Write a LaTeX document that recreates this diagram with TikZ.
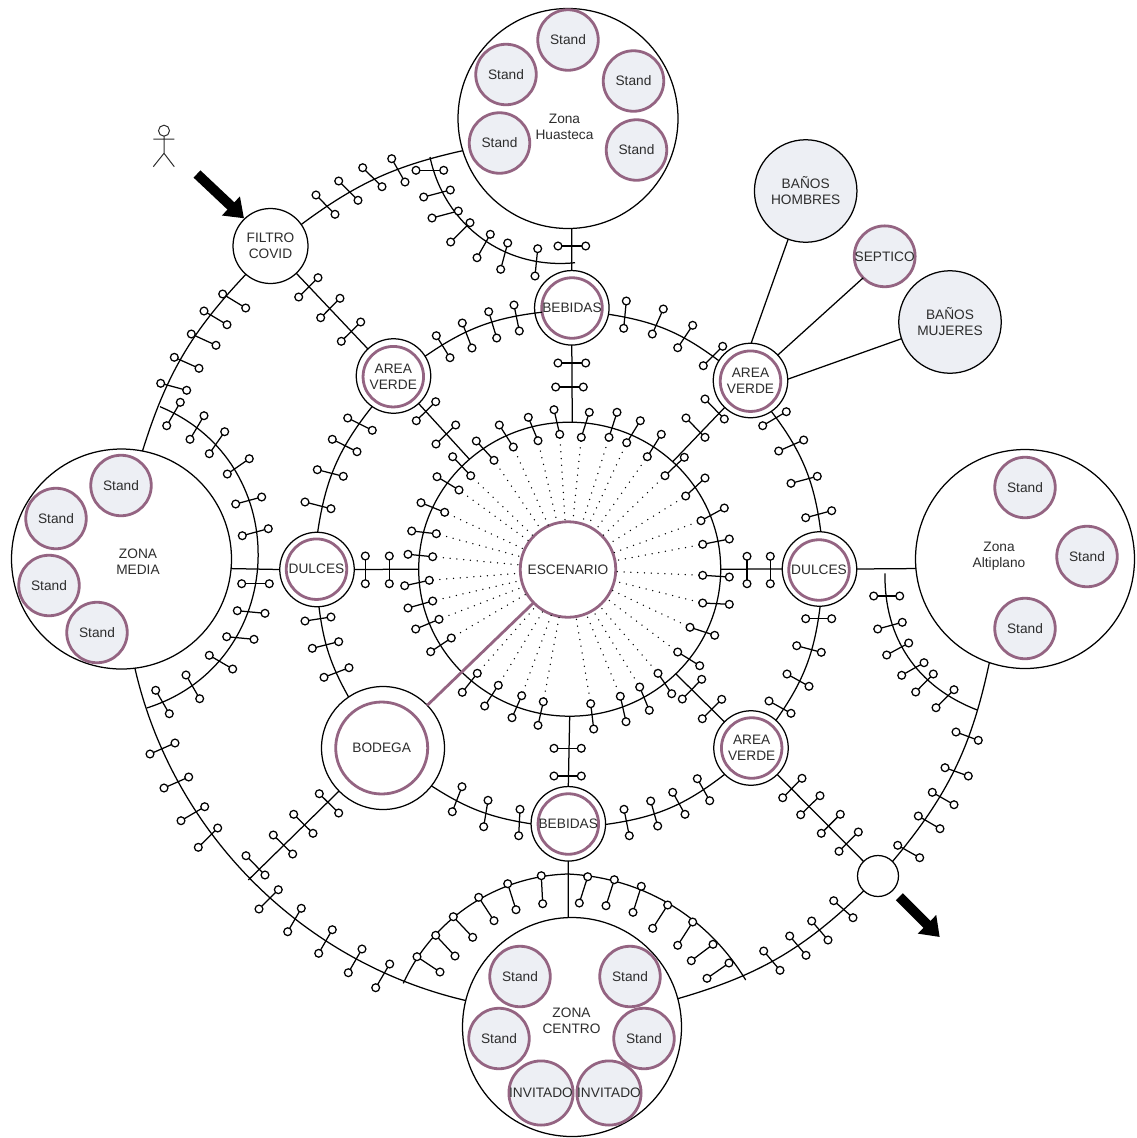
\documentclass[tikz,border=0pt]{standalone}
\usepackage{fontspec}
\setmainfont{Liberation Sans}
\usetikzlibrary{shapes.geometric, arrows.meta}
\definecolor{standpurple}{RGB}{148,100,130}
\definecolor{standfill}{RGB}{237,239,244}
\definecolor{labelgray}{RGB}{45,45,45}

\begin{document}
\begin{tikzpicture}[
    x=1pt, y=-1pt,
    every node/.style={inner sep=0pt, outer sep=0pt, font=\fontsize{13.7}{16}\selectfont, text=labelgray, align=center},
    wire/.style={draw=black, line width=1.25pt},
    hall/.style={circle, draw=black, line width=1.25pt, fill=white, minimum size=#1},
    booth/.style={circle, draw=standpurple, line width=2.8pt, minimum size=#1},
    stand/.style={circle, draw=standpurple, line width=2.8pt, fill=standfill, minimum size=60.5pt},
    service/.style={circle, draw=black, line width=1.25pt, fill=standfill, minimum size=102.5pt},
    stub/.style={circle, draw=black, line width=1.25pt, fill=white, minimum size=7.8pt},
    spots/.style={draw=black, line width=1.5pt, line cap=round, dash pattern=on 0pt off 6.8pt},
    bigarrow/.style={draw=black, line width=10pt, -{Triangle[length=18pt, width=25pt]}}
]
    \useasboundingbox (0,0) rectangle (1136,1138);

    % zones
    \node[hall=220pt] (huasteca) at (568,118.5) {};
    \node[hall=220pt] (media) at (121.5,559) {};
    \node[hall=219pt] (altiplano) at (1025,559) {};
    \node[hall=219pt] (centro) at (572,1027) {};

    \node (huastecatext) at (564.5,126.5) {Zona\\Huasteca};
    \node (mediatext) at (138,561.5) {ZONA\\MEDIA};
    \node (altiplanotext) at (999,556.5) {Zona\\Altiplano};
    \node (centrotext) at (571.5,1020.5) {ZONA\\CENTRO};

    \foreach \px/\py [count=\n] in {568/40, 506/74.5, 633.5/81, 499.5/143, 636.5/150,
        121/485.5, 56/518.5, 49/585.5, 97/632.5,
        1025/487.5, 1087/556.5, 1025/628.5,
        520/976.5, 630/976.5, 499/1038.5, 644/1038.5}
        \node[stand] (stand\n) at (\px,\py) {Stand};
    \node[stand] (guest1) at (541,1093) {INVITADO};
    \node[stand] (guest2) at (609,1093) {INVITADO};

    % centre
    \node[draw=black, line width=1.25pt, ellipse, minimum width=302pt, minimum height=294pt] (ring) at (569.7,569.2) {};
    \node[booth=95.5pt] (stage) at (568,569.5) {ESCENARIO};

    % halls on the middle ring
    \node[hall=75pt] (filtro) at (270.5,246) {FILTRO\\COVID};
    \node[hall=41pt] (exit) at (878,876) {};
    \node[hall=123pt] (bodega) at (383,748) {};
    \node[booth=92pt] (bodegain) at (381.7,748) {BODEGA};
    \foreach \nm/\px/\py/\ix/\iy/\tx in {areaA/393.5/376/393.3/376.7/{AREA\\VERDE},
        areaB/750.5/380.5/750.5/381.2/{AREA\\VERDE},
        areaC/751/748/751.7/748/{AREA\\VERDE},
        bebidasT/571.8/307.8/572/308/BEBIDAS,
        bebidasB/568.3/823.8/568.3/824/BEBIDAS,
        dulcesL/317/569.5/316.5/569.2/DULCES,
        dulcesR/819.5/569/819/570/DULCES}{
        \node[hall=74.5pt] (\nm) at (\px,\py) {};
        \node[booth=60.5pt] (\nm in) at (\ix,\iy) {\tx};
    }

    \node[service] (hombres) at (805.7,191) {BAÑOS\\HOMBRES};
    \node[service] (mujeres) at (950,322) {BAÑOS\\MUJERES};
    \node[circle, draw=standpurple, line width=2.8pt, fill=standfill, minimum size=53.5pt] (septico) at (884.7,256.3) {SEPTICO};

    \coordinate (bodegaend) at (248.3,880);
    \coordinate (huastecastart) at (430,157);
    \coordinate (huastecaend) at (575,262.7);
    \coordinate (mediastart) at (160,406.7);
    \coordinate (mediaend) at (146.7,708);
    \coordinate (centrostart) at (403.3,983.3);
    \coordinate (centrotop) at (568,874);
    \coordinate (centroend) at (745.7,980);
    \coordinate (altiplanostart) at (885,573.3);
    \coordinate (altiplanoend) at (977.3,710);

    % outer ring
    \draw[wire] (filtro.35) to[bend left=12] (huasteca.197);
    \draw[wire] (filtro.229) to[bend right=13] (media.79);
    \draw[wire] (media.277) to[bend right=32, looseness=0.92] (centro.166);
    \draw[wire] (centro.15) to[bend right=14] (exit.226);
    \draw[wire] (exit.45) to[bend right=14] (altiplano.251);

    % branches inside the outer ring
    \draw[wire] (huastecastart) to[bend right=42] (huastecaend);
    \draw[wire] (mediastart) to[bend left=70, looseness=1.26] (mediaend);
    \draw[wire] (centrostart) to[bend left=32, looseness=0.92] (centrotop)
        to[bend left=28, looseness=0.92] (centroend);
    \draw[wire] (altiplanostart) to[bend right=35] (altiplanoend);

    % middle ring
    \draw[wire] (areaA.32) to[bend left=14] (bebidasTin.188);
    \draw[wire] (bebidasT.-10) to[bend left=14] (areaB.148);
    \draw[wire] (areaB.-56) to[bend left=15] (dulcesR.88);
    \draw[wire] (dulcesR.-89) to[bend left=14] (areaC.48);
    \draw[wire] (areaC.225) to[bend left=15] (bebidasB.-1);
    \draw[wire] (bebidasB.180) to[bend left=12] (bodega.-38);
    \draw[wire] (bodega.124) to[bend left=11] (dulcesL.-87);
    \draw[wire] (dulcesL.89) to[bend left=15] (areaA.235);

    % straight links
    \draw[wire] (filtro) -- (areaA);
    \draw[wire] (areaA) -- (ring);
    \draw[wire] (areaB) -- (ring);
    \draw[wire] (areaC) -- (ring);
    \draw[wire] (exit) -- (areaC);
    \draw[wire] (bodega) -- (bodegaend);
    \draw[wire] (huasteca.-88) -- (bebidasT.north);
    \draw[wire] (bebidasT.south) -- (ring.89);
    \draw[wire] (ring.-90) -- (bebidasB.north);
    \draw[wire] (bebidasB.south) -- (centro.92);
    \draw[wire] (media.-5) -- (dulcesL.west);
    \draw[wire] (dulcesL.east) -- (ring.west);
    \draw[wire] (ring.east) -- (dulcesR.west);
    \draw[wire] (dulcesR.east) -- (altiplano.-175);
    \draw[wire] (areaB.89) -- (hombres.250);
    \draw[wire] (areaB.43) -- (septico.225);
    \draw[wire] (areaB.2) -- (mujeres.199);
    \draw[draw=standpurple, line width=2.8pt] (stage) -- (bodega);

    % stubs along the links
    \foreach \ax/\ay/\bx/\by [count=\n] in {
        316/195/335/214.3, 338.7/181/358/200.3, 362.7/167.7/382/186.7, 391.7/158.7/405/182,
        416/170.3/443.7/170.3, 423.7/197/450.3/190, 432/218/458.3/211, 450.7/242/470/222.7,
        477/257.7/490.3/234.3, 500.7/269.3/507.7/243, 535/276/537.7/248.7,
        558/246/585.7/246, 558/363/585.7/363, 555.7/387/583.3/387,
        222.7/294/245.7/308, 204/311/227/324.7, 191.3/334/216/345.3, 174.3/357.3/199/368.3, 160.7/383.3/186.7/390.3,
        180.3/402.3/166.7/425.7, 204/415.7/190/439.3, 224.7/431.7/209.3/453.7, 249.3/458.7/227.3/474,
        261.7/497/235.7/504, 268.3/528.7/242.3/535.7, 241.7/583.7/269.3/583.7, 237.3/610.7/265/613.3,
        226.7/636.7/254/639.3, 209.3/655.3/232.7/669, 186/675/199.7/698.7, 155.7/690.3/169.3/713.7,
        318/277.7/298.7/297, 340/298.3/320.7/317.7, 360.7/322/341.3/341.3,
        514/305/519.3/331, 488.7/311.7/496.7/338, 462.3/323/472/348, 436.3/335.7/450/357.7,
        626.3/301/623.7/328.3, 663.3/309/652.3/334, 692.7/325.3/677.7/347.7, 722.7/346.3/703.3/365.7,
        435.7/401.7/416.3/420.7, 455.7/425/436/444, 686/418/705/437.3, 705/399/724.3/419,
        701.7/679.3/682.3/699, 721.7/699.3/702.3/718.7,
        786.3/411.7/762.7/425.7, 803.7/440/778.7/451, 817.3/476.3/791/483.3, 831.7/510.7/805.7/517.7,
        805.7/618.7/831.7/618.7, 796.7/645.7/821.3/652.3, 787/674/809/686.3, 769/701/791/713.3,
        747/556.3/747/583.7, 770.3/556.3/770.3/583.7, 365.3/556/365.3/583.7, 389.3/556/389.3/583.7,
        347.7/418/372.3/430.3, 332.3/439.3/357/451.7, 317.3/469.7/343.3/476.3, 305/502/331/508.7,
        331/617/305/621, 338.7/641.7/312.3/648.3, 349/667.7/324/677.3,
        462/786.7/452.3/811.7, 488/800.3/483.7/826.7, 520/809.3/518.7/835.7,
        624/809.3/629.3/835.7, 650.7/801/657.7/826, 672.7/792.3/685/814.3, 697.3/778.7/709.7/800.7,
        554/748.3/581.3/748.3, 554/776/581.3/776,
        319.3/793.7/338.7/813, 293.7/814.3/313/833.3, 273.3/835/292.7/854, 246/855.7/265/875,
        175/743/150/754, 188.7/777/164/788, 204.7/806.7/181/820.7, 217.7/828/198.3/847.3,
        278.3/889.7/259/909, 301.3/908.3/287.7/931.7, 332.3/929.7/318.7/953.3, 362/949/348.3/972.7, 389.7/964/375.7/987.7,
        541.3/875.7/542.7/903.7, 507.7/883.7/516/909.7, 478.7/897.3/494/920.7, 453.3/916.7/472.7/937.3,
        435.7/935.3/455/956, 417/956.7/440/972,
        587.7/876.7/579.3/903, 614.3/879.7/606/905.7, 641.3/886.3/633/912.3, 667.7/905/652.7/928.3,
        692.7/922/677.7/945.3, 713/944.3/691.3/960.7, 729/963/707/978.3,
        833.7/900.7/853/917.7, 811.7/921/828/940, 789.7/936/806/955.3, 763.7/951/780/970.3,
        858.3/832/839/851.3, 840.3/814.3/821.3/833.3, 820/795.7/800.7/814.7, 802/778.3/782.7/797.7,
        956/732/978.3/740.3, 945/767.7/968.3/776, 932.3/792.3/954/804.7, 918.3/816/940/828.7, 897.7/845.3/919.7/857.7,
        873.7/596/899.7/596, 877.7/629/902.3/622.3, 886.7/655/908.7/643, 901.7/675.3/924/662.7,
        915.7/692/933.3/674, 936/707.7/954/689.7}{
        \node[stub] (link\n a) at (\ax,\ay) {};
        \node[stub] (link\n b) at (\bx,\by) {};
        \draw[wire] (link\n a) -- (link\n b);
    }

    % stubs on the ring, with dotted lines to the stage
    \foreach \ax/\ay/\bx/\by [count=\n] in {
        554/409.7/559.7/434.3, 589.3/412.3/581.3/437.3, 617/412.3/609/437.3, 640.3/420.7/626.7/442.7,
        661.3/434.3/647.3/456.7, 684.3/457.3/665/475.7, 705/478/685.7/496, 724.3/508/701/520.7,
        729.3/539/702.7/544.3, 729.3/577/702.7/575.3, 729.3/604.3/702.7/603, 714.7/635.3/690/627.3,
        699.7/665.7/677.7/652, 671.7/693.7/658/673.3, 649.3/710.3/639.7/687, 626/721.7/620.3/696.3,
        593.7/729/590.7/703.7, 538/725.3/543.3/701.7, 512/717.7/521.7/695.7, 484.7/706/498.3/685.3,
        462.3/692.3/477.3/673.3, 430.7/651.7/451.3/638, 415.7/629/439/619.3, 408/608/432.7/601,
        404.7/585.7/429.3/580.3, 408/554.3/432.7/556.7, 411.7/531/436.3/533.7, 421/502.7/444.7/512.3,
        437/476.7/459/490, 452.7/456.7/470.7/475.7, 476.3/441/494/460.3, 499.3/425/513.3/447, 528.3/417.3/538/440.7}{
        \node[stub] (ring\n a) at (\ax,\ay) {};
        \node[stub] (ring\n b) at (\bx,\by) {};
        \draw[wire] (ring\n a) -- (ring\n b);
        \draw[spots] (ring\n b) -- (stage);
    }

    % way in and way out
    \coordinate (intail) at (197,174);
    \coordinate (inhead) at (244,218.3);
    \coordinate (outtail) at (899.3,896.7);
    \coordinate (outhead) at (939.7,937);
    \draw[bigarrow] (intail) -- (inhead);
    \draw[bigarrow] (outtail) -- (outhead);

    % visitor
    \draw[line width=1pt, labelgray] (164,130.7) circle (5.5pt)
        (164,136.2) -- (164,153.3) (153.3,139) -- (174.3,139)
        (153.3,166.7) -- (164,153.3) -- (174.3,166.7);
\end{tikzpicture}
\end{document}
